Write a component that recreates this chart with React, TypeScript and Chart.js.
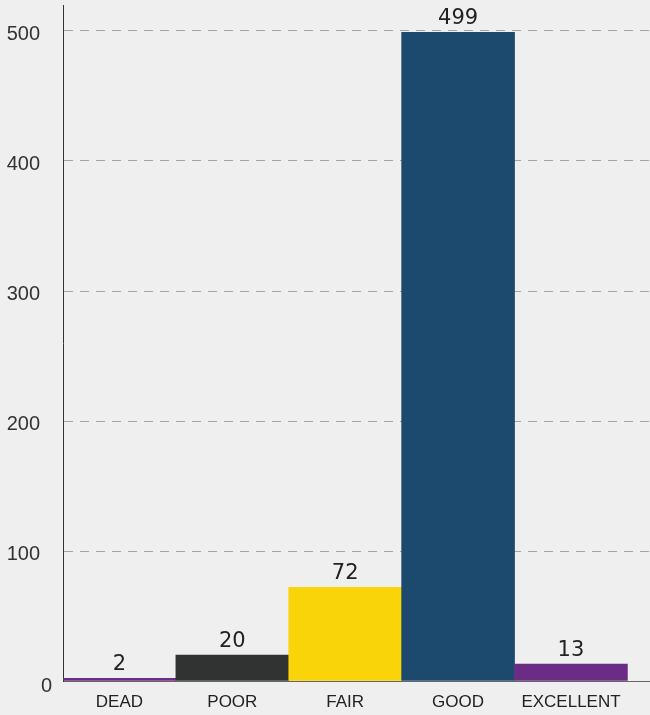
import React, { useEffect, useRef } from "react";
import { Chart, registerables } from "chart.js";

Chart.register(...registerables);

const categories = ["DEAD", "POOR", "FAIR", "GOOD", "EXCELLENT"];
const counts = [2, 20, 72, 499, 13];
const barColors = ["#6b2c86", "#313332", "#f8d409", "#1b4a6e", "#6b2c86"];
const yTicks = [0, 100, 200, 300, 400, 500];

const labelsPlugin = {
  id: "customLabels",
  afterDatasetsDraw(chart: any) {
    const ctx = chart.ctx;
    const area = chart.chartArea;
    const yScale = chart.scales.y;
    ctx.save();
    // y tick labels
    ctx.font = '20px "Liberation Sans", Arial, sans-serif';
    ctx.fillStyle = "#333333";
    ctx.textAlign = "right";
    ctx.textBaseline = "middle";
    yTicks.forEach((v) => {
      const y = yScale.getPixelForValue(v) + 3;
      const x = v === 0 ? area.left - 11 : area.left - 23;
      ctx.fillText(String(v), x, v === 0 ? y + 2 : y);
    });
    // value labels
    const meta = chart.getDatasetMeta(0);
    ctx.font = '21px "DejaVu Sans", sans-serif';
    ctx.fillStyle = "#222222";
    ctx.textAlign = "center";
    ctx.textBaseline = "alphabetic";
    meta.data.forEach((el: any, i: number) => {
      ctx.fillText(String(counts[i]), el.x, el.y - 8);
    });
    ctx.restore();
  },
};

export default function App() {
  const canvasRef = useRef<HTMLCanvasElement | null>(null);

  useEffect(() => {
    document.body.style.margin = "0";
    document.body.style.background = "#efefef";
    const canvas = canvasRef.current;
    if (!canvas) return;
    const chart = new Chart(canvas, {
      type: "bar",
      data: {
        datasets: [
          {
            data: counts.map((v, i) => ({ x: i, y: v })),
            backgroundColor: barColors,
            borderWidth: 0,
            barPercentage: 1,
            categoryPercentage: 1,
          },
        ],
      },
      options: {
        responsive: false,
        animation: false,
        layout: { padding: { top: 5, right: 0, left: 0, bottom: 0 } },
        plugins: {
          legend: { display: false },
          tooltip: { enabled: false },
        },
        scales: {
          x: {
            type: "linear",
            offset: false,
            min: -0.5,
            max: 4.7,
            afterBuildTicks: (s: any) => {
              s.ticks = categories.map((_, i) => ({ value: i }));
            },
            afterFit: (s: any) => {
              s.height = 34;
            },
            ticks: {
              callback: (v: any) => categories[v] ?? "",
              font: { family: '"Liberation Sans", Arial, sans-serif', size: 17 },
              color: "#222222",
              padding: 11,
              autoSkip: false,
              maxRotation: 0,
            },
            grid: { display: false, drawTicks: false, offset: false },
            border: { display: true, color: "#666666", width: 1 },
          },
          y: {
            min: 0,
            max: 520,
            afterBuildTicks: (s: any) => {
              s.ticks = yTicks.map((v) => ({ value: v }));
            },
            afterFit: (s: any) => {
              s.width = 63;
            },
            ticks: { display: false },
            grid: {
              drawTicks: false,
              color: (c: any) => (c.tick && c.tick.value === 0 ? "rgba(0,0,0,0)" : "#a3a3a3"),
              lineWidth: 1,
            },
            border: { display: true, color: "#333333", width: 1, dash: [9, 7] },
          },
        },
      },
      plugins: [labelsPlugin],
    } as any);
    return () => chart.destroy();
  }, []);

  return (
    <div
      style={{
        position: "absolute",
        left: 0,
        top: 0,
        width: 650,
        height: 715,
        background: "#efefef",
      }}
    >
      <canvas ref={canvasRef} width={650} height={715} />
    </div>
  );
}
